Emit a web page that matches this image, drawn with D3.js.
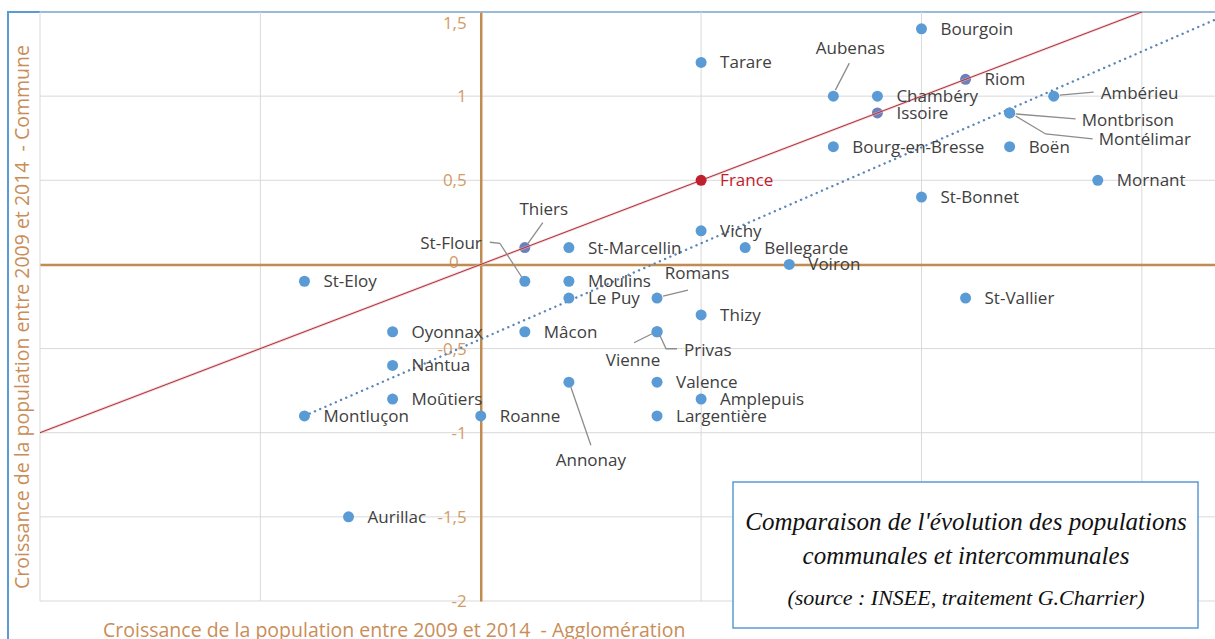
<!DOCTYPE html>
<html>
<head>
<meta charset="utf-8">
<title>Croissance commune / agglomération</title>
<script src="https://cdn.jsdelivr.net/npm/d3@7/dist/d3.min.js"></script>
<style>
  body { margin: 0; background: #fff; }
  svg { display: block; }
  .lbl { font-family: 'Open Sans', sans-serif; font-size: 17px; fill: #404040; }
  .tick text { font-family: 'Open Sans', sans-serif; font-size: 17px; fill: #d39b66; }
  .title { font-family: 'Open Sans', sans-serif; fill: #c98d58; white-space: pre; }
  .box { font-family: 'Liberation Serif', serif; font-style: italic; fill: #111; }
</style>
</head>
<body>
<svg id="chart" width="1215" height="639"></svg>
<script>
// communes: croissance agglomération (x) / commune (y), en %
const names = ['Bourgoin', 'Tarare', 'Aubenas', 'Chambéry', 'Issoire', 'Riom', 'Ambérieu',
  'Montbrison', 'Montélimar', 'Bourg-en-Bresse', 'Boën', 'Mornant', 'St-Bonnet', 'St-Vallier',
  'France', 'Thiers', 'St-Marcellin', 'Vichy', 'Bellegarde', 'Voiron', 'St-Flour', 'Moulins',
  'Le Puy', 'Romans', 'Thizy', 'St-Eloy', 'Oyonnax', 'Mâcon', 'Nantua', 'Moûtiers', 'Montluçon',
  'Roanne', 'Annonay', 'Vienne', 'Privas', 'Valence', 'Amplepuis', 'Largentière', 'Aurillac'];
const xValues = [1.0, 0.5, 0.8, 0.9, 0.9, 1.1, 1.3,
  1.2, 1.2, 0.8, 1.2, 1.4, 1.0, 1.1,
  0.5, 0.1, 0.2, 0.5, 0.6, 0.7, 0.1, 0.2,
  0.2, 0.4, 0.5, -0.4, -0.2, 0.1, -0.2, -0.2, -0.4,
  0.0, 0.2, 0.4, 0.4, 0.4, 0.5, 0.4, -0.3];
const yValues = [1.4, 1.2, 1.0, 1.0, 0.9, 1.1, 1.0,
  0.9, 0.9, 0.7, 0.7, 0.5, 0.4, -0.2,
  0.5, 0.1, 0.1, 0.2, 0.1, 0.0, -0.1, -0.1,
  -0.2, -0.2, -0.3, -0.1, -0.4, -0.4, -0.6, -0.8, -0.9,
  -0.9, -0.7, -0.4, -0.4, -0.7, -0.8, -0.9, -1.5];

const xTicks = [-1, -0.5, 0, 0.5, 1, 1.5];
const yTicks = [-2, -1.5, -1, -0.5, 0, 0.5, 1, 1.5];

// droite y = x et courbe de tendance
const diagX = [-1, 2];
const diagY = [-1, 2];
const trendX = [-0.4, 1.75];
const trendY = [-0.9, 1.55];

const xTitle = 'Croissance de la population entre 2009 et 2014  - Agglomération';
const yTitle = 'Croissance de la population entre 2009 et 2014  - Commune';
const boxLines = ["Comparaison de l'évolution des populations",
  'communales et intercommunales',
  '(source : INSEE, traitement G.Charrier)'];

// étiquettes déplacées avec ligne de rappel (décalages en px depuis le point)
const moved = {
  'Aubenas':    { dx: 17, dy: -48, anchor: 'middle', leader: [[2, -6], [16, -33]] },
  'Ambérieu':   { dx: 47, dy: -3, anchor: 'start', leader: [[6, -1], [40, -4]] },
  'Montbrison': { dx: 72, dy: 7, anchor: 'start', leader: [[6, 1], [66, 6]] },
  'Montélimar': { dx: 89, dy: 26, anchor: 'start', leader: [[6, 3], [36, 21], [83, 26]] },
  'Thiers':     { dx: 19, dy: -39, anchor: 'middle', leader: [[3, -4], [18, -25]] },
  'St-Flour':   { dx: -43, dy: -38, anchor: 'end', leader: [[-35, -39], [-25, -38], [-3, -4]] },
  'Romans':     { dx: 40, dy: -25, anchor: 'middle', leader: [[6, -2], [31, -8]] },
  'Annonay':    { dx: 22, dy: 78, anchor: 'middle', leader: [[2, 5], [22, 63]] },
  'Vienne':     { dx: -24, dy: 28, anchor: 'middle', leader: [[-5, 2], [-23, 11]] },
  'Privas':     { dx: 27, dy: 18, anchor: 'start', leader: [[3, 4], [9, 17], [20, 17]] }
};

const points = names.map((n, i) => ({ name: n, x: xValues[i], y: yValues[i] }));

const svg = d3.select('#chart');
const x = d3.scaleLinear().domain([-1, 1.7]).range([40, 1230]);
const y = d3.scaleLinear().domain([-2, 1.5]).range([601, 12]);
const fmt = d3.formatLocale({ decimal: ',', thousands: ' ', grouping: [3], currency: ['', '€'], minus: '-' }).format('');

svg.append('defs').append('clipPath').attr('id', 'plot')
  .append('rect').attr('x', 40).attr('y', 12).attr('width', 1175).attr('height', 589);
svg.select('defs').append('clipPath').attr('id', 'xlab')
  .append('rect').attr('x', 37).attr('y', 0).attr('width', 1200).attr('height', 639);

// outer frame
svg.append('rect').attr('x', 8).attr('y', 12).attr('width', 1400).attr('height', 800)
  .attr('fill', 'none').attr('stroke', '#5b9bd5').attr('stroke-width', 2);

// gridlines
svg.append('g').selectAll('line').data(xTicks).join('line')
  .attr('x1', d => x(d)).attr('x2', d => x(d)).attr('y1', y(1.5)).attr('y2', y(-2))
  .attr('stroke', '#d9d9d9');
svg.append('g').selectAll('line').data(yTicks).join('line')
  .attr('x1', x(-1)).attr('x2', 1215).attr('y1', d => y(d)).attr('y2', d => y(d))
  .attr('stroke', '#d9d9d9');

// axes crossing at 0
const gx = svg.append('g').attr('transform', `translate(0,${y(0)})`)
  .call(d3.axisBottom(x).tickValues(xTicks).tickFormat(fmt).tickSize(0).tickSizeOuter(0).tickPadding(19));
gx.selectAll('.tick text').attr('clip-path', 'url(#xlab)');
gx.select('.domain').attr('stroke', '#c08c52').attr('stroke-width', 2.5);

const gy = svg.append('g').attr('transform', `translate(${x(0)},0)`)
  .call(d3.axisLeft(y).tickValues(yTicks).tickFormat(fmt).tickSize(0).tickSizeOuter(0).tickPadding(14));
gy.select('.domain').attr('stroke', '#c08c52').attr('stroke-width', 2.5);
gy.selectAll('.tick').filter(d => d === 1.5).attr('transform', 'translate(0,24)');
gy.selectAll('.tick').filter(d => d === 0).attr('transform', `translate(-8,${y(0) - 2})`);
gx.raise();

// axis titles
svg.append('text').attr('class', 'title').attr('font-size', 19.5)
  .attr('transform', `translate(29,317) rotate(-90)`)
  .attr('text-anchor', 'middle').text(yTitle);
svg.append('text').attr('class', 'title').attr('font-size', 19.5)
  .attr('x', 103).attr('y', 637).attr('text-anchor', 'start').text(xTitle);

const plot = svg.append('g').attr('clip-path', 'url(#plot)');

// trend line (dotted)
plot.append('line')
  .attr('x1', x(trendX[0])).attr('y1', y(trendY[0]))
  .attr('x2', x(trendX[1])).attr('y2', y(trendY[1]))
  .attr('stroke', '#5b86b8').attr('stroke-width', 2.4)
  .attr('stroke-dasharray', '0.1 5.6').attr('stroke-linecap', 'round');

// points
const onDiag = d => d.name !== 'France' && Math.abs(d.x - d.y) < 0.001;
plot.selectAll('circle.pt').data(points.filter(d => d.name !== 'France')).join('circle')
  .attr('class', 'pt')
  .attr('cx', d => x(d.x)).attr('cy', d => y(d.y)).attr('r', 5.5)
  .attr('fill', d => onDiag(d) ? '#6e7fba' : '#5b9bd5');

// y = x
plot.append('line')
  .attr('x1', x(diagX[0])).attr('y1', y(diagY[0]))
  .attr('x2', x(diagX[1])).attr('y2', y(diagY[1]))
  .attr('stroke', '#f2b8bc').attr('stroke-width', 2.6).attr('opacity', 0.6);
plot.append('line')
  .attr('x1', x(diagX[0])).attr('y1', y(diagY[0]))
  .attr('x2', x(diagX[1])).attr('y2', y(diagY[1]))
  .attr('stroke', '#a8323c').attr('stroke-width', 1);

const france = points.find(d => d.name === 'France');
plot.append('circle').attr('cx', x(france.x)).attr('cy', y(france.y)).attr('r', 5.5).attr('fill', '#c0202e');

// leader lines
const line = d3.line();
points.filter(d => moved[d.name]).forEach(d => {
  const m = moved[d.name];
  svg.append('path')
    .attr('d', line(m.leader.map(p => [x(d.x) + p[0], y(d.y) + p[1]])))
    .attr('fill', 'none').attr('stroke', '#8c8c8c').attr('stroke-width', 1.3);
});

// labels
svg.append('g').selectAll('text').data(points).join('text')
  .attr('class', 'lbl')
  .attr('x', d => x(d.x) + (moved[d.name] ? moved[d.name].dx : 19))
  .attr('y', d => y(d.y) + (moved[d.name] ? moved[d.name].dy : 0))
  .attr('dy', '0.35em')
  .attr('text-anchor', d => moved[d.name] ? moved[d.name].anchor : 'start')
  .style('fill', d => d.name === 'France' ? '#c0202e' : null)
  .text(d => d.name);

// caption box
svg.append('rect').attr('x', 733).attr('y', 482).attr('width', 465).attr('height', 146)
  .attr('fill', '#fff').attr('stroke', '#5b9bd5').attr('stroke-width', 1.5);
svg.append('text').attr('class', 'box').attr('x', 966).attr('y', 530)
  .attr('text-anchor', 'middle').attr('font-size', 25).text(boxLines[0]);
svg.append('text').attr('class', 'box').attr('x', 966).attr('y', 564)
  .attr('text-anchor', 'middle').attr('font-size', 25).text(boxLines[1]);
svg.append('text').attr('class', 'box').attr('x', 966).attr('y', 605)
  .attr('text-anchor', 'middle').attr('font-size', 22).text(boxLines[2]);
</script>
</body>
</html>
